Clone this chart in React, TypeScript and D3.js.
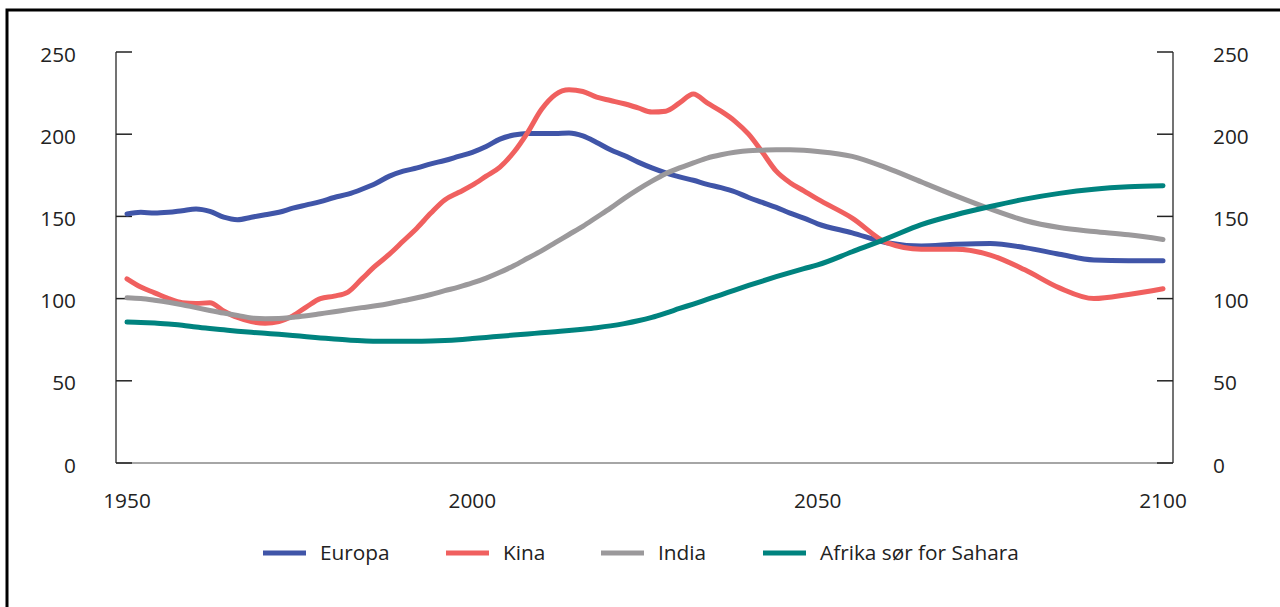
import React, { useEffect, useRef } from 'react';
import * as d3 from 'd3';

const W = 1280;
const H = 607;

// two-year steps up to 2050, then five-year steps
const years = [
  1950, 1952, 1954, 1956, 1958, 1960, 1962, 1964, 1966, 1968,
  1970, 1972, 1974, 1976, 1978, 1980, 1982, 1984, 1986, 1988,
  1990, 1992, 1994, 1996, 1998, 2000, 2002, 2004, 2006, 2008,
  2010, 2012, 2014, 2016, 2018, 2020, 2022, 2024, 2026, 2028,
  2030, 2032, 2034, 2036, 2038, 2040, 2042, 2044, 2046, 2048,
  2050, 2055, 2060, 2065, 2070, 2075, 2080, 2085, 2090, 2095, 2100,
];

const europa = [
  151.5, 152.5, 152, 152.5, 153.5, 154.5, 153, 149.5, 148, 149.5,
  151, 152.5, 155, 157, 159, 161.5, 163.5, 166.5, 170, 174.5,
  177.5, 179.5, 182, 184, 186.5, 189, 192.5, 197, 199.5, 200.5,
  200.5, 200.5, 200.8, 199, 195, 190.5, 187, 183, 179.5, 176.5,
  174, 172, 169.5, 167.5, 165, 161.5, 158.5, 155.5, 152, 149,
  145.5, 140, 134, 132, 133, 133.5, 131, 127, 123.5, 123, 123,
];

const kina = [
  112, 107, 103.5, 100, 97.5, 97, 97.5, 92.5, 88.5, 86,
  85, 86, 89.5, 95, 100, 101.5, 104, 112, 120, 127,
  135, 143, 152, 160, 164.5, 169, 174.5, 180, 189, 201,
  215, 224, 227, 226, 222.5, 220.5, 218.5, 216, 213.5, 214,
  219, 224.5, 219, 214, 208, 200, 189, 177.5, 170.5, 165.5,
  160.5, 149, 134, 130, 130, 126.5, 117.5, 106.5, 100, 102.5, 106,
];

const india = [
  100.5, 100, 99, 97.8, 96.3, 94.5, 92.8, 91.2, 89.8, 88.2,
  87.8, 87.9, 88.7, 89.6, 90.8, 92, 93.3, 94.5, 95.6, 97,
  98.8, 100.5, 102.5, 104.8, 107, 109.5, 112.5, 116, 120, 124.5,
  129, 134, 139, 144, 149.5, 155, 161, 166.5, 171.5, 176,
  179.5, 182.5, 185.5, 187.5, 189, 190, 190.3, 190.5, 190.5, 190.2,
  189.5, 186.5, 179.5, 171, 162.5, 154.5, 147.5, 143.2, 140.8, 138.8, 136,
];

const afrika = [
  85.7, 85.5, 85.1, 84.5, 83.8, 82.7, 81.8, 81, 80.2, 79.5,
  78.9, 78.3, 77.6, 76.8, 76.1, 75.4, 74.8, 74.4, 74.1, 74,
  74, 74.1, 74.2, 74.5, 75, 75.7, 76.4, 77.1, 77.8, 78.5,
  79.2, 79.9, 80.6, 81.4, 82.3, 83.4, 84.8, 86.5, 88.6, 91.2,
  94, 96.7, 99.5, 102.3, 105.2, 108, 110.7, 113.3, 115.8, 118.2,
  120.5, 128.5, 136.5, 145, 151, 156, 160.5, 164, 166.5, 168, 168.7,
];

const seriesNames = ['Europa', 'Kina', 'India', 'Afrika sør for Sahara'];
const seriesValues = [europa, kina, india, afrika];
const seriesColors = ['#4055a8', '#f0605f', '#9b999b', '#00837f'];

const yTicks = [0, 50, 100, 150, 200, 250];
const xTicks = [1950, 2000, 2050, 2100];

const legendX = [263, 446, 601, 763];

const FONT = '"Open Sans", sans-serif';
const FS = 20.8;

export default function App() {
  const ref = useRef<SVGSVGElement>(null);

  useEffect(() => {
    document.body.style.margin = '0';
    const svg = d3.select(ref.current);
    svg.selectAll('*').remove();

    const axisLeft = 116;
    const axisRight = 1173;

    const x = d3.scaleLinear().domain([1950, 2100]).range([127, 1163]);
    const y = d3.scaleLinear().domain([0, 250]).range([463, 52]);

    // frame
    svg.append('rect')
      .attr('x', 7).attr('y', 10)
      .attr('width', W + 20).attr('height', H + 20)
      .attr('fill', 'none').attr('stroke', '#000').attr('stroke-width', 3);

    // baseline
    svg.append('line')
      .attr('x1', axisLeft).attr('x2', axisRight)
      .attr('y1', y(0)).attr('y2', y(0))
      .attr('stroke', '#888').attr('stroke-width', 1.5);

    // y axes, left and right
    [axisLeft, axisRight].forEach((ax, side) => {
      svg.append('line')
        .attr('x1', ax).attr('x2', ax)
        .attr('y1', y(250)).attr('y2', y(0))
        .attr('stroke', '#444').attr('stroke-width', 1.5);
      const dir = side === 0 ? 1 : -1;
      svg.selectAll(null)
        .data(yTicks)
        .enter()
        .append('line')
        .attr('x1', ax).attr('x2', ax + dir * 16)
        .attr('y1', (d) => y(d)).attr('y2', (d) => y(d))
        .attr('stroke', '#222').attr('stroke-width', 1.5);
      svg.selectAll(null)
        .data(yTicks)
        .enter()
        .append('text')
        .attr('x', side === 0 ? 76 : 1213)
        .attr('y', (d) => y(d) + 9.5)
        .attr('text-anchor', side === 0 ? 'end' : 'start')
        .attr('font-family', FONT)
        .attr('font-size', FS)
        .attr('fill', '#222')
        .text((d) => d);
    });

    svg.selectAll(null)
      .data(xTicks)
      .enter()
      .append('text')
      .attr('x', (d) => x(d))
      .attr('y', 508)
      .attr('text-anchor', 'middle')
      .attr('font-family', FONT)
      .attr('font-size', FS)
      .attr('fill', '#222')
      .text((d) => d);

    const line = d3.line<number>()
      .curve(d3.curveMonotoneX)
      .x((_d, i) => x(years[i]))
      .y((d) => y(d));

    seriesValues.forEach((vals, i) => {
      svg.append('path')
        .datum(vals)
        .attr('fill', 'none')
        .attr('stroke', seriesColors[i])
        .attr('stroke-width', 5)
        .attr('stroke-linecap', 'round')
        .attr('stroke-linejoin', 'round')
        .attr('d', line);
    });

    // legend
    const legY = 553;
    seriesNames.forEach((name, i) => {
      svg.append('line')
        .attr('x1', legendX[i]).attr('x2', legendX[i] + 43)
        .attr('y1', legY).attr('y2', legY)
        .attr('stroke', seriesColors[i])
        .attr('stroke-width', 5);
      svg.append('text')
        .attr('x', legendX[i] + 57)
        .attr('y', legY + 7)
        .attr('font-family', FONT)
        .attr('font-size', FS)
        .attr('fill', '#222')
        .text(name);
    });
  }, []);

  return <svg ref={ref} width={W} height={H} style={{ display: 'block' }} />;
}
